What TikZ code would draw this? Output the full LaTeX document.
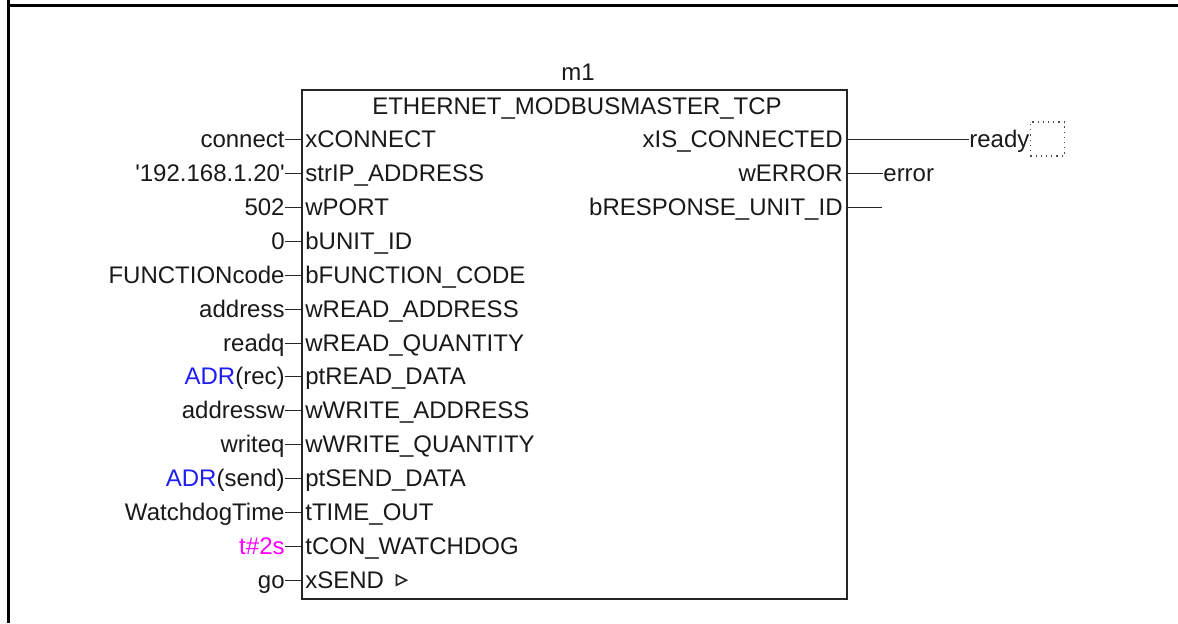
\documentclass[tikz,border=0pt]{standalone}
\usepackage{fontspec}
\setmainfont{Liberation Sans}
\usetikzlibrary{positioning,fit,calc}

\definecolor{adrblue}{RGB}{30,30,245}
\definecolor{timemag}{RGB}{255,0,255}

\begin{document}
\begin{tikzpicture}[
    x=0.5pt, y=-0.5pt,
    txt/.style={font=\fontsize{12}{14}\selectfont, text height=8.6pt, text depth=0pt, inner sep=0pt, text=black!90},
    pinin/.style={txt, anchor=west},
    arg/.style={txt, anchor=east},
    pinout/.style={txt, anchor=east},
    res/.style={txt, anchor=west},
    fbox/.style={draw=black!85, line width=1pt, inner sep=0pt},
    wire/.style={draw=black!85, line width=0.5pt},
    frame/.style={draw=black, line width=1.5pt},
    varbox/.style={draw=black!70, dotted, line width=0.6pt, minimum size=17pt, inner sep=0pt},
]
\useasboundingbox (0,0) rectangle (1178,623);

% Frame
\coordinate (ftop) at (8,0);
\coordinate (fbot) at (8,623);
\coordinate (fright) at (1178,5);
\draw[frame] (ftop) -- (fbot);
\draw[frame] (ftop |- fright) -- (fright);

% Function block
\coordinate (nw) at (302,90);
\coordinate (se) at (847,599);
\node[fbox, fit=(nw)(se)] (m1) {};
\node[txt] (inst) at (578,72) {m1};
\node[txt] (type) at (577,106) {ETHERNET\_MODBUSMASTER\_TCP};

% Inputs
\node[pinin] (xconn) at (305,139) {xCONNECT};
\node[pinin] (ipaddr) at (305,173) {strIP\_ADDRESS};
\node[pinin] (port) at (305,207) {wPORT};
\node[pinin] (unit) at (305,241) {bUNIT\_ID};
\node[pinin] (fcode) at (305,275) {bFUNCTION\_CODE};
\node[pinin] (raddr) at (305,309) {wREAD\_ADDRESS};
\node[pinin] (rqty) at (305,343) {wREAD\_QUANTITY};
\node[pinin] (rdata) at (305,376) {ptREAD\_DATA};
\node[pinin] (waddr) at (305,410) {wWRITE\_ADDRESS};
\node[pinin] (wqty) at (305,444) {wWRITE\_QUANTITY};
\node[pinin] (sdata) at (305,478) {ptSEND\_DATA};
\node[pinin] (tout) at (305,512) {tTIME\_OUT};
\node[pinin] (wdog) at (305,546) {tCON\_WATCHDOG};
\node[pinin] (xsend) at (305,580) {xSEND};
\draw[wire, line width=0.8pt] ([xshift=6pt,yshift=2.4pt]xsend.east) -- ++(0,10) -- ++(10,-5) -- cycle;

% Input values
\node[arg] (vconn) at (285,139) {connect};
\node[arg] (vip) at (285,173) {\textquotesingle192.168.1.20\textquotesingle};
\node[arg] (vport) at (285,207) {502};
\node[arg] (vunit) at (285,241) {0};
\node[arg] (vfcode) at (285,275) {FUNCTIONcode};
\node[arg] (vraddr) at (285,309) {address};
\node[arg] (vrqty) at (285,343) {readq};
\node[arg] (vrdata) at (285,376) {{\color{adrblue}ADR}(rec)};
\node[arg] (vwaddr) at (285,410) {addressw};
\node[arg] (vwqty) at (285,444) {writeq};
\node[arg] (vsdata) at (285,478) {{\color{adrblue}ADR}(send)};
\node[arg] (vtout) at (285,512) {WatchdogTime};
\node[arg, text=timemag] (vwdog) at (285,546) {t\#2s};
\node[arg] (vsend) at (285,580) {go};

\foreach \v in {vconn,vip,vport,vunit,vfcode,vraddr,vrqty,vrdata,vwaddr,vwqty,vsdata,vtout,vwdog,vsend}
  \draw[wire] (\v.east) -- (\v.east -| m1.west);

% Outputs
\node[pinout] (conn) at (843,139) {xIS\_CONNECTED};
\node[pinout] (err) at (843,173) {wERROR};
\node[pinout] (resp) at (843,207) {bRESPONSE\_UNIT\_ID};

\node[res] (ready) at (969,139) {ready};
\node[varbox, right=0pt of ready] (rbox) {};
\node[res] (error) at (883,173) {error};
\coordinate (respend) at (882,207);

\draw[wire] (conn.east -| m1.east) -- (ready.west);
\draw[wire] (err.east -| m1.east) -- (error.west);
\draw[wire] (resp.east -| m1.east) -- (respend);

\end{tikzpicture}
\end{document}
